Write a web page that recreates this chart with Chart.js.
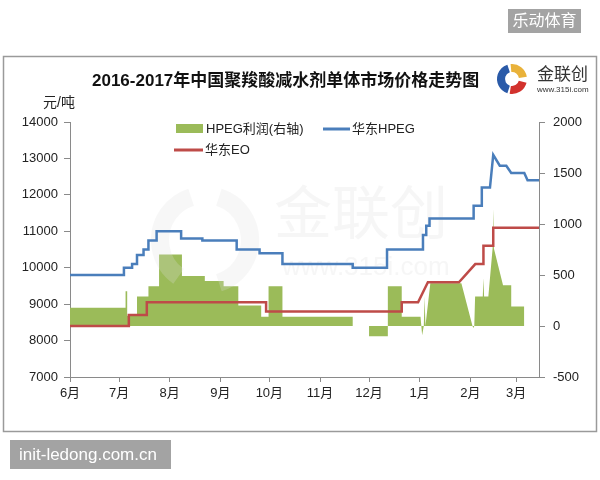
<!DOCTYPE html>
<html>
<head>
<meta charset="utf-8">
<title>2016-2017年中国聚羧酸减水剂单体市场价格走势图</title>
<script src="https://cdn.jsdelivr.net/npm/chart.js@4.4.1/dist/chart.umd.min.js"></script>
<style>
    html, body { margin: 0; padding: 0; background: #fff; }
    #wrap { position: relative; width: 600px; height: 480px; }
</style>
</head>
<body>
<div id="wrap"><canvas id="price-chart"></canvas></div>
<script>
// x 轴用 6月1日 起算的天数
const monthDays = [0, 30, 61, 92, 122, 153, 183, 214, 245, 273];
const monthLabels = ['6月', '7月', '8月', '9月', '10月', '11月', '12月', '1月', '2月', '3月'];

// 华东HPEG (元/吨)
const hpegDays = [0, 33, 33, 38, 38, 41, 41, 45, 45, 48, 48, 53, 53, 68, 68, 81, 81, 102, 102, 116, 116,
    130, 130, 173, 173, 194, 194, 216, 216, 218, 218, 220, 220, 247, 247, 252, 252, 257, 259, 263, 267,
    270, 278, 280, 287];
const hpegPrice = [9800, 9800, 10000, 10000, 10100, 10100, 10350, 10350, 10500, 10500, 10750, 10750, 11000,
    11000, 10800, 10800, 10750, 10750, 10500, 10500, 10400, 10400, 10100, 10100, 10000, 10000, 10500,
    10500, 10900, 10900, 11150, 11150, 11350, 11350, 11700, 11700, 12200, 12200, 13100, 12800, 12800,
    12600, 12600, 12400, 12400];

// 华东EO (元/吨)
const eoDays = [0, 36, 36, 47, 47, 120, 120, 203, 203, 213, 219, 238, 248, 253, 253, 259, 259, 287];
const eoPrice = [8400, 8400, 8700, 8700, 9050, 9050, 8800, 8800, 9050, 9050, 9600, 9600, 10100, 10100,
    10600, 10600, 11100, 11100];

// HPEG利润 (右轴)
const profitDays = [0, 34, 34, 35, 35, 41, 41, 48, 48, 54.5, 54.5, 68.5, 68.5, 82.5, 82.5, 94, 94, 103, 103,
    117, 117, 121.5, 121.5, 130, 130, 173, 173, 183, 183, 194.5, 194.5, 203, 203, 214.5, 215.5, 216.5,
    217, 217.5, 220.5, 239.5, 246.3, 246.8, 247.4, 247.9, 252.6, 253, 253.4, 256, 258.6, 259, 259.4,
    265, 270, 270, 278, 278];
const profitValue = [180, 180, 340, 340, 100, 100, 290, 290, 390, 390, 700, 700, 490, 490, 440, 440, 390,
    390, 200, 200, 90, 90, 390, 390, 90, 90, 0, 0, -100, -100, 390, 390, 90, 90, -90, 0, 290, 0, 420,
    420, 0, -20, 0, 290, 290, 470, 290, 290, 760, 1150, 760, 400, 400, 190, 190, 0];

const FONT = "'Liberation Sans', 'Noto Sans CJK SC', sans-serif";
const AXIS_COLOR = '#8a8a8a';
const TEXT_COLOR = '#222';
const GREEN = '#9bbb59';
const BLUE = '#4a7ebb';
const RED = '#be4b48';

function toPoints(xs, ys) {
    return xs.map((x, i) => ({ x, y: ys[i] }));
}

const decorations = {
    id: 'decorations',
    beforeDraw(chart) {
        const ctx = chart.ctx;
        ctx.save();
        ctx.fillStyle = '#fff';
        ctx.fillRect(0, 0, chart.width, chart.height);

        // 外框
        ctx.strokeStyle = '#9a9a9a';
        ctx.lineWidth = 1.5;
        ctx.strokeRect(3.5, 56.5, 593, 375);

        // 标题
        ctx.fillStyle = '#111';
        ctx.font = 'bold 17px ' + FONT;
        ctx.textBaseline = 'middle';
        ctx.textAlign = 'left';
        ctx.fillText('2016-2017年中国聚羧酸减水剂单体市场价格走势图', 92, 81);

        // 单位
        ctx.fillStyle = TEXT_COLOR;
        ctx.font = '14px ' + FONT;
        ctx.fillText('元/吨', 43, 103);

        // 金联创 logo
        ctx.lineWidth = 8;
        ctx.lineCap = 'butt';
        const cx = 512, cy = 79, r = 11;
        ctx.strokeStyle = '#2a5aa8';
        ctx.beginPath(); ctx.arc(cx, cy, r, 0.6 * Math.PI, 1.4 * Math.PI); ctx.stroke();
        ctx.strokeStyle = '#e9b23a';
        ctx.beginPath(); ctx.arc(cx, cy, r, 1.47 * Math.PI, 1.95 * Math.PI); ctx.stroke();
        ctx.strokeStyle = '#d2322d';
        ctx.beginPath(); ctx.arc(cx, cy, r, 0.08 * Math.PI, 0.55 * Math.PI); ctx.stroke();
        ctx.fillStyle = '#333';
        ctx.font = '17px ' + FONT;
        ctx.fillText('金联创', 537, 75);
        ctx.font = '8px ' + FONT;
        ctx.fillText('www.315i.com', 537, 90);

        // 角标
        ctx.fillStyle = '#a3a3a3';
        ctx.fillRect(508, 9, 73, 24);
        ctx.fillRect(10, 440, 161, 29);
        ctx.fillStyle = '#fff';
        ctx.font = '16px ' + FONT;
        ctx.textAlign = 'center';
        ctx.fillText('乐动体育', 544.5, 21.5);
        ctx.textAlign = 'left';
        ctx.font = '17px ' + FONT;
        ctx.fillText('init-ledong.com.cn', 19, 455);
        ctx.restore();
    },
    afterDatasetDraw(chart, args) {
        // 水印画在面积图之上、折线之下
        if (args.index !== 2) return;
        const ctx = chart.ctx;
        ctx.save();
        ctx.fillStyle = 'rgba(225, 225, 225, 0.3)';
        ctx.strokeStyle = 'rgba(225, 225, 225, 0.25)';
        ctx.lineWidth = 18;
        ctx.beginPath(); ctx.arc(205, 240, 45, 0.7 * Math.PI, 1.4 * Math.PI); ctx.stroke();
        ctx.beginPath(); ctx.arc(205, 240, 45, 1.6 * Math.PI, 0.4 * Math.PI); ctx.stroke();
        ctx.textBaseline = 'middle';
        ctx.textAlign = 'left';
        ctx.font = '58px ' + FONT;
        ctx.fillText('金联创', 274, 218);
        ctx.font = '26px ' + FONT;
        ctx.fillText('www.315i.com', 282, 268);
        ctx.restore();
    },
    afterDraw(chart) {
        // 图例
        const ctx = chart.ctx;
        ctx.save();
        ctx.font = '13px ' + FONT;
        ctx.textBaseline = 'middle';
        ctx.textAlign = 'left';
        ctx.fillStyle = GREEN;
        ctx.fillRect(176, 124, 27, 9);
        ctx.fillStyle = TEXT_COLOR;
        ctx.fillText('HPEG利润(右轴)', 206, 129);
        ctx.lineWidth = 3;
        ctx.strokeStyle = BLUE;
        ctx.beginPath(); ctx.moveTo(323, 129); ctx.lineTo(350, 129); ctx.stroke();
        ctx.fillText('华东HPEG', 352, 129);
        ctx.strokeStyle = RED;
        ctx.beginPath(); ctx.moveTo(174, 150); ctx.lineTo(203, 150); ctx.stroke();
        ctx.fillText('华东EO', 205, 150);
        ctx.restore();
    }
};

const tickFont = { family: FONT, size: 13 };
const plainNumber = (value) => String(value);

new Chart(document.getElementById('price-chart'), {
    type: 'line',
    data: {
        datasets: [
            {
                label: '华东HPEG',
                data: toPoints(hpegDays, hpegPrice),
                borderColor: BLUE,
                borderWidth: 2.5,
                pointRadius: 0,
                fill: false,
                yAxisID: 'y',
                order: 1
            },
            {
                label: '华东EO',
                data: toPoints(eoDays, eoPrice),
                borderColor: RED,
                borderWidth: 2.5,
                pointRadius: 0,
                fill: false,
                yAxisID: 'y',
                order: 2
            },
            {
                label: 'HPEG利润(右轴)',
                data: toPoints(profitDays, profitValue),
                borderWidth: 0,
                borderColor: GREEN,
                backgroundColor: GREEN,
                pointRadius: 0,
                fill: 'origin',
                yAxisID: 'y1',
                order: 10
            }
        ]
    },
    options: {
        responsive: true,
        maintainAspectRatio: false,
        animation: false,
        events: [],
        layout: { padding: { top: 122, bottom: 73, left: 0, right: 0 } },
        plugins: {
            legend: { display: false },
            title: { display: false },
            tooltip: { enabled: false }
        },
        scales: {
            x: {
                type: 'linear',
                min: 0,
                max: 287,
                afterBuildTicks: (scale) => {
                    scale.ticks = monthDays.map(v => ({ value: v }));
                },
                afterFit: (scale) => { scale.height = 30; },
                ticks: {
                    autoSkip: false,
                    maxRotation: 0,
                    padding: 4,
                    color: TEXT_COLOR,
                    font: tickFont,
                    callback: (value, index) => monthLabels[index]
                },
                grid: { drawOnChartArea: false, tickLength: 5, color: AXIS_COLOR },
                border: { color: AXIS_COLOR }
            },
            y: {
                position: 'left',
                min: 7000,
                max: 14000,
                afterFit: (scale) => { scale.width = 70; },
                ticks: { stepSize: 1000, padding: 6, color: TEXT_COLOR, font: tickFont, callback: plainNumber },
                grid: { drawOnChartArea: false, tickLength: 6, color: AXIS_COLOR },
                border: { color: AXIS_COLOR }
            },
            y1: {
                position: 'right',
                min: -500,
                max: 2000,
                afterFit: (scale) => { scale.width = 61; },
                ticks: { stepSize: 500, padding: 8, color: TEXT_COLOR, font: tickFont, callback: plainNumber },
                grid: { drawOnChartArea: false, tickLength: 6, color: AXIS_COLOR },
                border: { color: AXIS_COLOR }
            }
        }
    },
    plugins: [decorations]
});
</script>
</body>
</html>
